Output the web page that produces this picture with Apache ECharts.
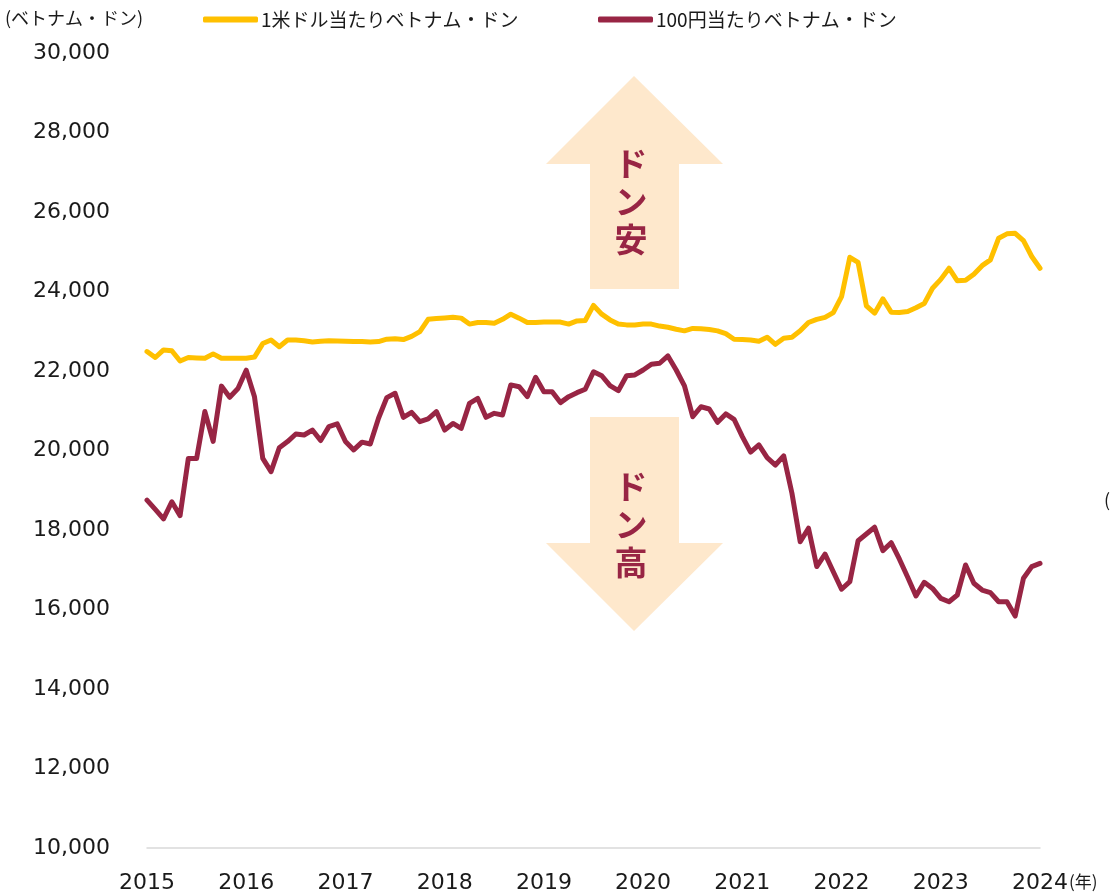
<!DOCTYPE html>
<html>
<head>
<meta charset="utf-8">
<script src="https://cdn.jsdelivr.net/npm/echarts@6/dist/echarts.min.js"></script>
<style>
  html, body { margin: 0; padding: 0; background: #fff; }
  #chart { width: 1111px; height: 894px; }
</style>
</head>
<body>
<div id="chart"></div>
<script>
// 年（目盛りラベル）
var years = ['2015', '2016', '2017', '2018', '2019', '2020', '2021', '2022', '2023', '2024'];
var yTicks = [10000, 12000, 14000, 16000, 18000, 20000, 22000, 24000, 26000, 28000, 30000];

// 1米ドル当たりベトナム・ドン（月次、2015/1〜2024/1）
var usdVnd = [
  22490, 22340, 22530, 22510, 22250, 22340, 22330, 22320, 22430, 22320, 22320, 22320,
  22320, 22350, 22690, 22780, 22610, 22780, 22780, 22760, 22730, 22750, 22760, 22755,
  22750, 22745, 22740, 22730, 22740, 22800, 22810, 22790, 22870, 22990, 23300, 23320,
  23335, 23350, 23330, 23180, 23220, 23220, 23200, 23300, 23430, 23330, 23220, 23220,
  23230, 23230, 23230, 23180, 23260, 23270, 23650, 23430, 23285, 23185, 23160, 23160,
  23180, 23180, 23130, 23100, 23050, 23010, 23070, 23060, 23045, 23010, 22940, 22800,
  22790, 22780, 22750, 22850, 22670, 22825, 22850, 23010, 23220, 23300, 23350, 23470,
  23870, 24860, 24730, 23640, 23455, 23815, 23480, 23470, 23495, 23590, 23700, 24080,
  24305, 24585, 24270, 24280, 24435, 24650, 24795, 25340, 25450, 25465, 25280, 24880,
  24585
];

// 100円当たりベトナム・ドン（月次、2015/1〜2024/1）
var jpyVnd = [
  18750, 18520, 18280, 18710, 18360, 19800, 19800, 20980, 20230, 21620, 21340, 21560,
  22020, 21350, 19800, 19470, 20070, 20225, 20415, 20390, 20515, 20250, 20600, 20670,
  20225, 20015, 20210, 20165, 20810, 21330, 21440, 20835, 20960, 20725, 20795, 20980,
  20515, 20680, 20555, 21185, 21310, 20835, 20935, 20895, 21650, 21605, 21355, 21840,
  21480, 21480, 21205, 21355, 21455, 21540, 21980, 21880, 21630, 21505, 21880, 21900,
  22025, 22170, 22195, 22380, 22025, 21625, 20850, 21100, 21045, 20710, 20920, 20785,
  20350, 19960, 20140, 19820, 19635, 19865, 18925, 17705, 18045, 17080, 17395, 16950,
  16510, 16700, 17730, 17900, 18070, 17480, 17680, 17265, 16810, 16340, 16685, 16530,
  16280, 16195, 16365, 17120, 16660, 16490, 16425, 16195, 16195, 15835, 16785, 17080,
  17160
];

var seriesNames = ['1米ドル当たりベトナム・ドン', '100円当たりベトナム・ドン'];
var colors = ['#FFC000', '#982544'];

// 月次カテゴリ（2015/1〜2024/1）
var months = [];
for (var y = 0; y < years.length; y++) {
  for (var m = 1; m <= 12; m++) {
    months.push(years[y] + '/' + m);
    if (y === years.length - 1) break;
  }
}

var jpFont = '"Noto Sans CJK JP", "Noto Sans", sans-serif';
var numFont = '"DejaVu Sans", sans-serif';
var arrowFill = '#FEE8CC';
var accent = '#982544';

var chartDom = document.getElementById('chart');
var myChart = echarts.init(chartDom, null, { renderer: 'canvas' });

var option = {
  animation: false,
  backgroundColor: '#fff',
  grid: {
    left: 147,
    right: 71,
    top: 53,
    bottom: 46,
    containLabel: false
  },
  legend: [
    {
      data: [seriesNames[0]],
      left: 198,
      top: 5,
      icon: 'roundRect',
      itemWidth: 55,
      itemHeight: 6,
      itemGap: 4,
      textStyle: { fontFamily: jpFont, fontSize: 19, color: '#1a1a1a', padding: [0, 0, 0, -2] }
    },
    {
      data: [seriesNames[1]],
      left: 593,
      top: 5,
      icon: 'roundRect',
      itemWidth: 55,
      itemHeight: 6,
      itemGap: 4,
      textStyle: { fontFamily: jpFont, fontSize: 19, color: '#1a1a1a', padding: [0, 0, 0, -2] }
    }
  ],
  xAxis: {
    type: 'category',
    data: months,
    boundaryGap: false,
    axisLine: { show: true, lineStyle: { color: '#D9D9D9', width: 1.5 } },
    axisTick: { show: false },
    splitLine: { show: false },
    axisLabel: {
      interval: 11,
      margin: 24,
      fontFamily: numFont,
      fontSize: 22,
      color: '#1a1a1a',
      formatter: function (v) { return v.split('/')[0]; }
    }
  },
  yAxis: {
    type: 'value',
    min: yTicks[0],
    max: yTicks[yTicks.length - 1],
    interval: 2000,
    axisLine: { show: false },
    axisTick: { show: false },
    splitLine: { show: false },
    axisLabel: {
      margin: 37,
      fontFamily: numFont,
      fontSize: 22,
      color: '#1a1a1a',
      formatter: function (v) { return v.toLocaleString('en-US'); }
    }
  },
  graphic: [
    // ドン安（上向き矢印）
    {
      type: 'polygon',
      z: 0,
      shape: { points: [[634, 76], [723, 164], [679, 164], [679, 289], [590, 289], [590, 164], [546, 164]] },
      style: { fill: arrowFill }
    },
    {
      type: 'text',
      z: 1,
      x: 631,
      y: 201,
      style: {
        text: 'ド\nン\n安',
        font: 'bold 33px ' + jpFont,
        fill: accent,
        align: 'center',
        verticalAlign: 'middle',
        lineHeight: 38
      }
    },
    // ドン高（下向き矢印）
    {
      type: 'polygon',
      z: 0,
      shape: { points: [[590, 417], [679, 417], [679, 543], [723, 543], [634, 631], [546, 543], [590, 543]] },
      style: { fill: arrowFill }
    },
    {
      type: 'text',
      z: 1,
      x: 631,
      y: 524,
      style: {
        text: 'ド\nン\n高',
        font: 'bold 33px ' + jpFont,
        fill: accent,
        align: 'center',
        verticalAlign: 'middle',
        lineHeight: 38
      }
    },
    // 単位
    {
      type: 'text',
      x: 5,
      y: 18,
      style: {
        text: '(ベトナム・ドン)',
        font: '18px ' + jpFont,
        fill: '#1a1a1a',
        verticalAlign: 'middle'
      }
    },
    {
      type: 'text',
      x: 1069,
      y: 882,
      style: {
        text: '(年)',
        font: '17px ' + jpFont,
        fill: '#1a1a1a',
        verticalAlign: 'middle'
      }
    },
    {
      type: 'text',
      x: 1104,
      y: 500,
      style: {
        text: '(',
        font: '18px ' + jpFont,
        fill: '#1a1a1a',
        verticalAlign: 'middle'
      }
    }
  ],
  series: [
    {
      name: seriesNames[0],
      type: 'line',
      data: usdVnd,
      symbol: 'none',
      color: colors[0],
      lineStyle: { width: 5, color: colors[0], cap: 'round', join: 'round' },
      z: 3
    },
    {
      name: seriesNames[1],
      type: 'line',
      data: jpyVnd,
      symbol: 'none',
      color: colors[1],
      lineStyle: { width: 5, color: colors[1], cap: 'round', join: 'round' },
      z: 3
    }
  ]
};

option && myChart.setOption(option);
</script>
</body>
</html>
